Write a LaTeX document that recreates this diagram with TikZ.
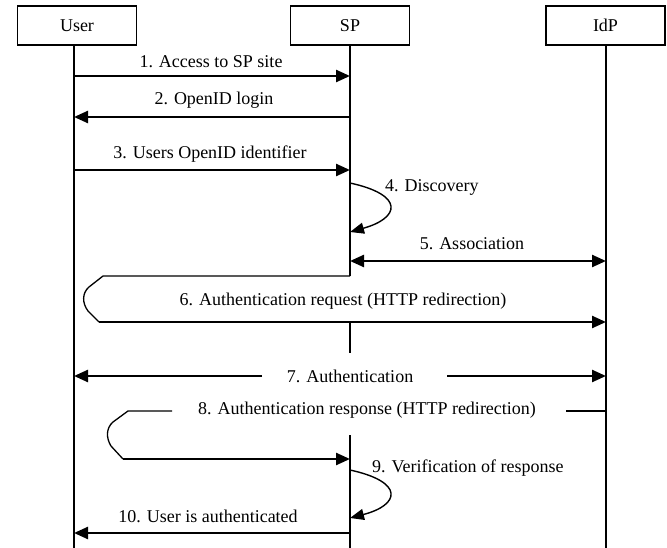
\documentclass[tikz,border=0pt]{standalone}
\usepackage{fontspec}
\setmainfont{Liberation Serif}
\usetikzlibrary{arrows.meta}
\begin{document}
\begin{tikzpicture}[x=1pt,y=-1pt,
  actor/.style={draw, line width=1.2pt, minimum width=119pt, minimum height=39pt,
    inner sep=0pt, font=\fontsize{18}{20}\selectfont},
  lifeline/.style={line width=1.2pt},
  msg/.style={line width=2.4pt, -{Triangle[length=14pt,width=12pt]}},
  thinline/.style={line width=1.3pt, line join=round},
  selfmsg/.style={line width=1.4pt, -{Triangle[length=14pt,width=11pt]}},
  lbl/.style={font=\fontsize{18}{20}\selectfont, inner sep=0pt}]
  \fill[white] (0,0) rectangle (667,548);
  \useasboundingbox (0,0) rectangle (667,548);

  % participants
  \node[actor] (user) at (77,25.5) {User};
  \node[actor] (sp)   at (350,25.5) {SP};
  \node[actor] (idp)  at (605.5,25.5) {IdP};

  % lifeline anchors
  \coordinate (uL) at (74,45);
  \coordinate (sL) at (350,45);
  \coordinate (iL) at (606,45);

  % lifelines
  \draw[lifeline] (uL) -- (uL |- 0,548);
  \draw[lifeline] (iL) -- (iL |- 0,548);
  \draw[lifeline] (sL) -- (sL |- 0,276);
  \draw[lifeline] (sL |- 0,322) -- (sL |- 0,353);
  \draw[lifeline] (sL |- 0,435) -- (sL |- 0,548);

  % 1
  \node[lbl] (m1) at (211,62) {1. Access to SP site};
  \draw[msg] (uL |- 0,76) -- (sL |- 0,76);
  % 2
  \node[lbl] (m2) at (214,100) {2. OpenID login};
  \draw[msg] (sL |- 0,117) -- (uL |- 0,117);
  % 3
  \node[lbl] (m3) at (210,154) {3. Users OpenID identifier};
  \draw[msg] (uL |- 0,170) -- (sL |- 0,170);
  % 4
  \node[lbl, anchor=west] (m4) at (385,187) {4. Discovery};
  \draw[selfmsg] (sL |- 0,183) .. controls (405,195) and (400,218) .. (sL |- 0,232);
  % 5
  \node[lbl] (m5) at (472,244) {5. Association};
  \draw[msg, {Triangle[length=14pt,width=12pt]}-{Triangle[length=14pt,width=12pt]}]
    (sL |- 0,261) -- (iL |- 0,261);
  % 6
  \node[lbl] (m6) at (343,301) {6. Authentication request (HTTP redirection)};
  \coordinate (c6) at (99,322);
  \draw[thinline] (sL |- 0,276) -- (103,276) -- (89,287)
    .. controls (82,293) and (82,303) .. (88,311) -- (c6);
  \draw[msg] (c6) -- (iL |- 0,322);
  % 7
  \node[lbl] (m7) at (350,376) {7. Authentication};
  \coordinate (a7l) at (262,376);
  \coordinate (a7r) at (447,376);
  \draw[msg] (a7l) -- (uL |- 0,376);
  \draw[msg] (a7r) -- (iL |- 0,376);
  % 8
  \node[lbl] (m8) at (367,410) {8. Authentication response (HTTP redirection)};
  \coordinate (a8r) at (566,411);
  \coordinate (a8l) at (172,411);
  \coordinate (c8) at (123,459);
  \draw[thinline] (iL |- 0,411) -- (a8r);
  \draw[thinline] (a8l) -- (128,411) -- (113,422)
    .. controls (106,428) and (106,438) .. (111,446) -- (c8);
  \draw[msg] (c8) -- (sL |- 0,459);
  % 9
  \node[lbl, anchor=west] (m9) at (372,468) {9. Verification of response};
  \draw[selfmsg] (sL |- 0,470) .. controls (405,482) and (400,505) .. (sL |- 0,518);
  % 10
  \node[lbl] (m10) at (208,516) {10. User is authenticated};
  \draw[msg] (sL |- 0,533) -- (uL |- 0,533);
\end{tikzpicture}
\end{document}
